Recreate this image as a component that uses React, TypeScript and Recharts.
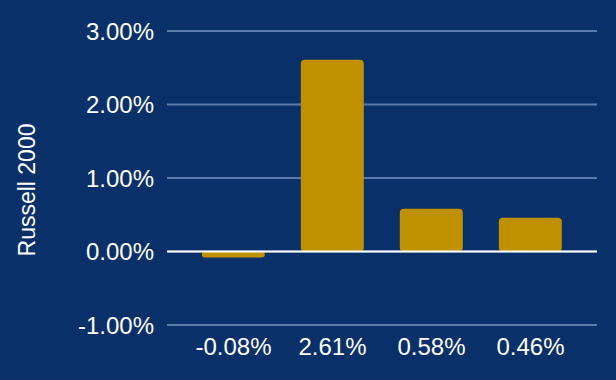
import { Bar, BarChart, CartesianGrid, ReferenceLine, XAxis, YAxis } from 'recharts'

const categories = ['-0.08%', '2.61%', '0.58%', '0.46%']
const returns = [-0.08, 2.61, 0.58, 0.46]
const yTicks = [-1, 0, 1, 2, 3]

const CHART_W = 616
const CHART_H = 380
const FONT = '"Liberation Sans", Arial, sans-serif'

const data = categories.map((name, i) => ({ name, value: returns[i] }))

function YLabel() {
  const cx = 27
  const cy = CHART_H / 2
  return (
    <text
      x={cx}
      y={cy}
      transform={`rotate(-90 ${cx} ${cy})`}
      textAnchor="middle"
      dominantBaseline="central"
      fill="#ffffff"
      fontSize={23}
      fontFamily={FONT}
    >
      Russell 2000
    </text>
  )
}

export default function App() {
  return (
    <div
      style={{
        position: 'absolute',
        left: 0,
        top: 0,
        width: CHART_W,
        height: CHART_H,
        background: '#0a306a',
      }}
    >
      <BarChart
        width={CHART_W}
        height={CHART_H}
        data={data}
        margin={{ top: 31, right: 19, bottom: 0, left: 0 }}
        barCategoryGap="18%"
      >
        <CartesianGrid horizontal vertical={false} stroke="#5c7aa8" strokeWidth={2} />
        <XAxis
          dataKey="name"
          height={55}
          padding={{ left: 17, right: 17 }}
          axisLine={false}
          tickLine={false}
          tickSize={0}
          tickMargin={13}
          tick={{ fill: '#ffffff', fontSize: 24, fontFamily: FONT }}
        />
        <YAxis
          width={167}
          domain={[-1, 3]}
          ticks={yTicks}
          axisLine={false}
          tickLine={false}
          tickSize={0}
          tickMargin={13}
          tickFormatter={(v: number) => `${v.toFixed(2)}%`}
          tick={{ fill: '#ffffff', fontSize: 24, fontFamily: FONT }}
          label={<YLabel />}
        />
        <Bar dataKey="value" fill="#bf9000" radius={4} isAnimationActive={false} />
        <ReferenceLine y={0} stroke="#ffffff" strokeWidth={2} />
      </BarChart>
    </div>
  )
}
